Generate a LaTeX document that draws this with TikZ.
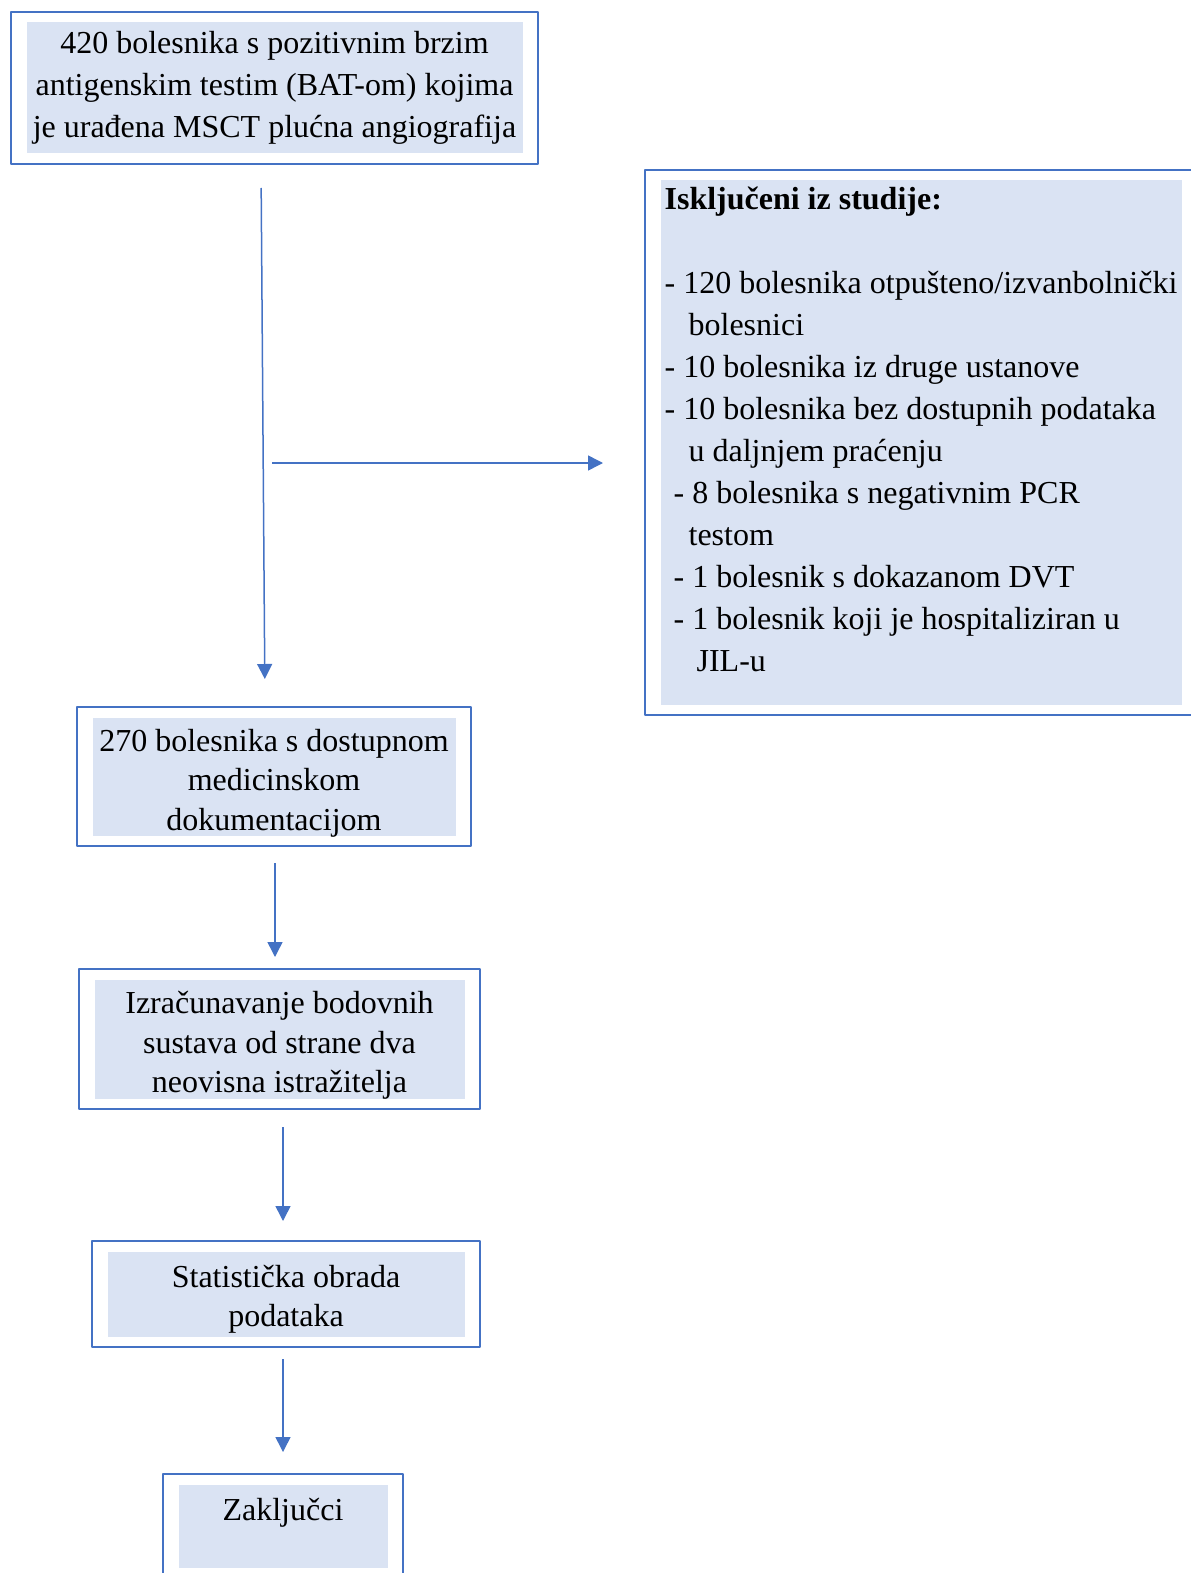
\documentclass[tikz,border=0pt]{standalone}
\usepackage{fontspec}
\setmainfont{Liberation Serif}
\usetikzlibrary{arrows.meta}
\definecolor{boxblue}{HTML}{4472C4}
\definecolor{fillblue}{HTML}{DAE3F3}
\newcommand{\padtop}{\rule{0pt}{17.5pt}}
\begin{document}
\begin{tikzpicture}[x=0.5pt,y=-0.5pt,line join=round,>={Triangle[width=7.5pt,length=7.5pt]}]
	\tikzset{box/.style={draw=boxblue,line width=1pt,fill=white,align=center,inner sep=0pt,
			font=\fontsize{16}{19.75}\selectfont,
			path picture={\fill[fillblue] ([shift={(7.75pt,-5.25pt)}]path picture bounding box.north west) rectangle ([shift={(-7.75pt,5.25pt)}]path picture bounding box.south east);}},
		arr/.style={->,draw=boxblue,line width=0.75pt}}
	\useasboundingbox (0,0) rectangle (1190,1573);
	\node[box,minimum width=263.5pt,minimum height=76pt,font=\fontsize{16}{21}\selectfont] (start) at (274.5,88)
		{420 bolesnika s pozitivnim brzim\\ antigenskim testim (BAT-om) kojima\\ je urađena MSCT plućna angiografija};
	\node[box,minimum width=276pt,minimum height=272.5pt,align=left,font=\fontsize{16}{21}\selectfont] (excl) at (921,442.5)
		{\textbf{Isključeni iz studije:}\\[21pt]
		- 120 bolesnika otpušteno/izvanbolnički\\
		\hspace*{12pt}bolesnici\\
		- 10 bolesnika iz druge ustanove\\
		- 10 bolesnika bez dostupnih podataka\\
		\hspace*{12pt}u daljnjem praćenju\\
		\hspace*{4.5pt}- 8 bolesnika s negativnim PCR\\
		\hspace*{12pt}testom\\
		\hspace*{4.5pt}- 1 bolesnik s dokazanom DVT\\
		\hspace*{4.5pt}- 1 bolesnik koji je hospitaliziran u\\
		\hspace*{16pt}JIL-u\rule[-13pt]{0pt}{13pt}};
	\node[box,minimum width=197pt,minimum height=69.5pt] (docs) at (274,776.5)
		{\padtop 270 bolesnika s dostupnom\\ medicinskom\\ dokumentacijom};
	\node[box,minimum width=200.5pt,minimum height=70pt] (scores) at (279.5,1039)
		{\padtop Izračunavanje bodovnih\\ sustava od strane dva\\ neovisna istražitelja};
	\node[box,minimum width=194pt,minimum height=53pt] (stats) at (286,1294)
		{\rule{0pt}{16.5pt}Statistička obrada\\ podataka};
	\node[box,minimum width=120pt,minimum height=52pt] (concl) at (283,1526)
		{\rule{0pt}{14.5pt}Zaključci\\ ~};
	\coordinate (branch) at (272,463);
	\draw[arr,shorten <=11.5pt,shorten >=13.5pt] ([xshift=-6.75pt]start.south) -- ([xshift=-4.5pt]docs.north);
	\draw[arr,shorten >=20.5pt] (branch) -- (branch -| excl.west);
	\draw[arr,shorten <=8pt,shorten >=5.5pt] ([xshift=0.5pt]docs.south) -- ([xshift=0.5pt]docs.south |- scores.north);
	\draw[arr,shorten <=8.5pt,shorten >=9.5pt] ([xshift=1.75pt]scores.south) -- ([xshift=1.75pt]scores.south |- stats.north);
	\draw[arr,shorten <=5.5pt,shorten >=10.5pt] (concl.north |- stats.south) -- (concl.north);
\end{tikzpicture}
\end{document}
